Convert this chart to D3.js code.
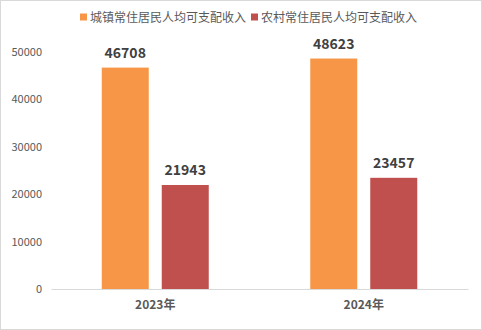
<!DOCTYPE html>
<html>
<head>
<meta charset="utf-8">
<script src="https://cdn.jsdelivr.net/npm/d3@7"></script>
<style>
  html, body { margin: 0; padding: 0; background: #fff; }
  svg { display: block; }
</style>
</head>
<body>
<svg id="chart" width="482" height="330"></svg>
<script>
// Per-capita disposable income, urban vs rural residents
const years = ["2023年", "2024年"];
const seriesNames = ["城镇常住居民人均可支配收入", "农村常住居民人均可支配收入"];
const urbanValues = [46708, 48623];
const ruralValues = [21943, 23457];
const seriesColors = ["#F79646", "#C0504D"];
const yTicks = [0, 10000, 20000, 30000, 40000, 50000];

const W = 482, H = 330;
const margin = { left: 51, right: 14, top: 52, bottom: 41 };
const svg = d3.select("#chart");
const font = "'Microsoft YaHei', 'Noto Sans CJK SC', 'Noto Sans', sans-serif";

// outer frame
svg.append("rect")
  .attr("x", 0.5).attr("y", 0.5)
  .attr("width", W - 1).attr("height", H - 1)
  .attr("fill", "#fff").attr("stroke", "#d9d9d9");

const x0 = d3.scaleBand().domain(years)
  .range([margin.left, W - margin.right]).paddingInner(0).paddingOuter(0);
const y = d3.scaleLinear().domain([0, 50000])
  .range([H - margin.bottom, margin.top]);

const barW = 47, gap = 13;
const x1 = d3.scaleOrdinal().domain([0, 1]).range([-(barW + gap / 2), gap / 2 + 0]);

// y axis labels
const yAxis = d3.axisLeft(y).tickValues(yTicks).tickSize(0).tickPadding(9)
  .tickFormat(d3.format("d"));
const gy = svg.append("g").attr("transform", `translate(${margin.left},0)`).call(yAxis);
gy.select(".domain").remove();
gy.selectAll("text").attr("fill", "#595959").style("font-size", "11px").style("font-family", font);

// category axis
const xAxis = d3.axisBottom(x0).tickSize(0).tickPadding(11);
const gx = svg.append("g").attr("transform", `translate(0,${y(0)})`).call(xAxis);
gx.select(".domain").attr("stroke", "#d9d9d9").attr("stroke-width", 1);
gx.selectAll("text").attr("fill", "#595959").style("font-size", "12px")
  .style("font-weight", "bold").style("font-family", font);

// bars
const rows = years.map((yr, i) => ({ year: yr, values: [urbanValues[i], ruralValues[i]] }));
const groups = svg.append("g").selectAll("g").data(rows).join("g")
  .attr("transform", d => `translate(${x0(d.year) + x0.bandwidth() / 2},0)`);

groups.selectAll("rect").data(d => d.values.map((v, k) => ({ v, k }))).join("rect")
  .attr("x", d => x1(d.k))
  .attr("y", d => y(d.v))
  .attr("width", barW)
  .attr("height", d => y(0) - y(d.v))
  .attr("fill", d => seriesColors[d.k]);

groups.selectAll("text.val").data(d => d.values.map((v, k) => ({ v, k }))).join("text")
  .attr("class", "val")
  .attr("x", d => x1(d.k) + barW / 2)
  .attr("y", d => y(d.v) - 10)
  .attr("text-anchor", "middle")
  .attr("fill", "#404040")
  .style("font-size", "14px")
  .style("font-weight", "bold")
  .style("font-family", font)
  .text(d => d.v);

// legend
const legendX = [80, 251];
const lg = svg.append("g").selectAll("g").data(seriesNames).join("g")
  .attr("transform", (d, i) => `translate(${legendX[i]},12)`);
lg.append("rect").attr("width", 7).attr("height", 7).attr("y", 1.5)
  .attr("fill", (d, i) => seriesColors[i]);
lg.append("text").attr("x", 10).attr("y", 9.5)
  .attr("fill", "#595959").style("font-size", "12px").style("font-family", font)
  .text(d => d);
</script>
</body>
</html>
